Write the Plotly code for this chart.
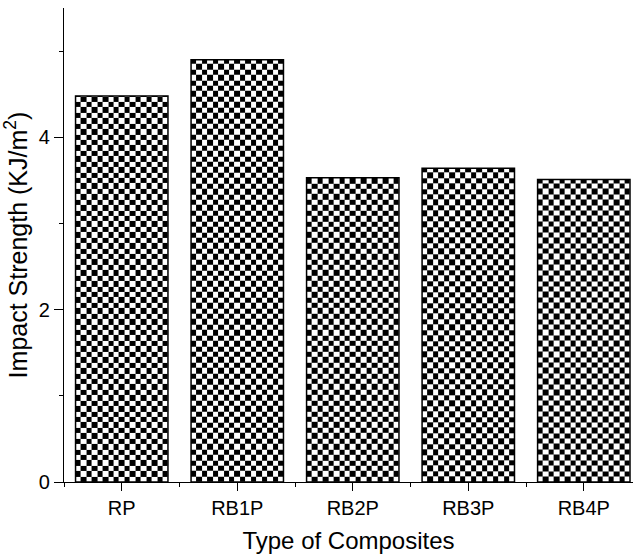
import numpy as np
import plotly.graph_objects as go

categories = ["RP", "RB1P", "RB2P", "RB3P", "RB4P"]
impact_strength = [4.48, 4.90, 3.53, 3.64, 3.51]

x_pos = list(range(1, len(categories) + 1))
bar_width = 0.8
n_cols = 17
cell_y = 0.063

fig = go.Figure()

# checkerboard fill for each bar (texture), bounded by the bar value
for xp, val in zip(x_pos, impact_strength):
    xe = np.linspace(xp - bar_width / 2, xp + bar_width / 2, n_cols + 1)
    ye = list(np.arange(0, val, cell_y))
    ye.append(val)
    n_rows = len(ye) - 1
    z = [[(r + c) % 2 for c in range(n_cols)] for r in range(n_rows)]
    fig.add_trace(go.Heatmap(
        x=xe, y=ye, z=z, zmin=0, zmax=1,
        colorscale=[[0, "white"], [1, "black"]],
        showscale=False, hoverinfo="skip", zsmooth=False,
    ))

fig.add_trace(go.Bar(
    x=x_pos, y=impact_strength, width=bar_width,
    marker=dict(color="rgba(0,0,0,0)", line=dict(color="black", width=1.5)),
    showlegend=False,
))

font = dict(family="Liberation Sans, Arial, sans-serif", color="black")

fig.update_layout(
    width=633, height=558,
    margin=dict(l=64, r=0, t=8, b=76),
    plot_bgcolor="white", paper_bgcolor="white",
    font=font,
    showlegend=False,
    xaxis=dict(
        automargin=False,
        range=[0.5, 5.426],
        tickmode="array", tickvals=x_pos, ticktext=categories,
        ticks="outside", ticklen=8, tickwidth=1.3, tickcolor="black",
        showline=True, linecolor="black", linewidth=1.3,
        showgrid=False, zeroline=False,
        tickfont=dict(size=20),
        title=dict(text="Type of Composites", font=dict(size=24), standoff=14),
        minor=dict(tickmode="array", tickvals=[0.5, 1.5, 2.5, 3.5, 4.5],
                   ticks="outside", ticklen=4, tickwidth=1.3, tickcolor="black"),
    ),
    yaxis=dict(
        automargin=False,
        range=[0, 5.5],
        tickmode="array", tickvals=[0, 2, 4], ticktext=["0", "2", "4"],
        ticks="outside", ticklen=9, tickwidth=1.3, tickcolor="black",
        showline=True, linecolor="black", linewidth=1.3,
        showgrid=False, zeroline=False,
        tickfont=dict(size=20),
        title=dict(text="Impact Strength (KJ/m<sup>2</sup>)", font=dict(size=25), standoff=8),
        minor=dict(tickmode="array", tickvals=[1, 3, 5],
                   ticks="outside", ticklen=4, tickwidth=1.3, tickcolor="black"),
    ),
)

fig.write_html(
    "out.html",
    config={"displayModeBar": False},
    post_script="document.body.style.margin='0';document.body.style.overflow='hidden';",
)
